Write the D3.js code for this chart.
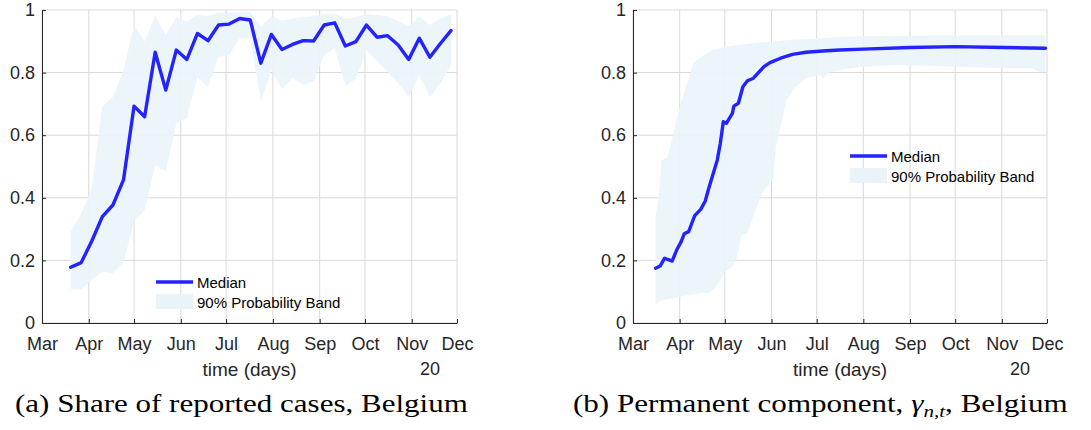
<!DOCTYPE html>
<html lang="en">
<head>
    <meta charset="UTF-8">
    <title>Belgium: share of reported cases and permanent component</title>
    <script src="https://d3js.org/d3.v7.min.js"></script>
    <style>
        body { margin: 0; background: #fff; }
        svg { display: block; }
    </style>
</head>
<body>
    <svg></svg>
    <script>
        // month ticks and y ticks
        const monthTicks = ['2020-03-01', '2020-04-01', '2020-05-01', '2020-06-01', '2020-07-01',
            '2020-08-01', '2020-09-01', '2020-10-01', '2020-11-01', '2020-12-01'];
        const yTicks = [0, 0.2, 0.4, 0.6, 0.8, 1];
        const yearLabel = '20';

        // (a) share of reported cases, weekly
        const shareDates = ['2020-03-20', '2020-03-27', '2020-04-03', '2020-04-10', '2020-04-17', '2020-04-24',
            '2020-05-01', '2020-05-08', '2020-05-15', '2020-05-22', '2020-05-29', '2020-06-05', '2020-06-12',
            '2020-06-19', '2020-06-26', '2020-07-03', '2020-07-10', '2020-07-17', '2020-07-24', '2020-07-31',
            '2020-08-07', '2020-08-14', '2020-08-21', '2020-08-28', '2020-09-04', '2020-09-11', '2020-09-18',
            '2020-09-25', '2020-10-02', '2020-10-09', '2020-10-16', '2020-10-23', '2020-10-30', '2020-11-06',
            '2020-11-13', '2020-11-20', '2020-11-27'];
        const shareMedian = [0.178, 0.193, 0.262, 0.340, 0.377, 0.457, 0.693, 0.659, 0.865, 0.744, 0.872, 0.842,
            0.925, 0.902, 0.952, 0.955, 0.973, 0.968, 0.830, 0.922, 0.874, 0.890, 0.902, 0.901, 0.952, 0.959,
            0.885, 0.899, 0.952, 0.913, 0.918, 0.888, 0.842, 0.910, 0.849, 0.893, 0.934];
        const shareLower = [0.108, 0.108, 0.137, 0.164, 0.159, 0.193, 0.324, 0.360, 0.505, 0.483, 0.638, 0.654,
            0.785, 0.753, 0.851, 0.856, 0.910, 0.910, 0.707, 0.808, 0.747, 0.782, 0.760, 0.771, 0.856, 0.878,
            0.757, 0.780, 0.872, 0.835, 0.803, 0.766, 0.721, 0.792, 0.721, 0.766, 0.824];
        const shareUpper = [0.292, 0.350, 0.430, 0.693, 0.723, 0.808, 0.952, 0.899, 0.981, 0.920, 0.977, 0.963,
            0.984, 0.980, 0.991, 0.991, 0.993, 0.993, 0.947, 0.980, 0.966, 0.973, 0.977, 0.980, 0.988, 0.988,
            0.973, 0.977, 0.988, 0.984, 0.980, 0.966, 0.947, 0.980, 0.952, 0.973, 0.987];

        // (b) permanent component
        const permDates = ['2020-03-16', '2020-03-19', '2020-03-22', '2020-03-24', '2020-03-27', '2020-03-30',
            '2020-04-02', '2020-04-04', '2020-04-07', '2020-04-09', '2020-04-11', '2020-04-15', '2020-04-18',
            '2020-04-20', '2020-04-22', '2020-04-26', '2020-04-28', '2020-04-30', '2020-05-02', '2020-05-06',
            '2020-05-07', '2020-05-10', '2020-05-13', '2020-05-16', '2020-05-20', '2020-05-23', '2020-05-27',
            '2020-05-31', '2020-06-07', '2020-06-15', '2020-06-24', '2020-07-05', '2020-07-16', '2020-08-01',
            '2020-09-01', '2020-10-01', '2020-11-02', '2020-11-30'];
        const permMedian = [0.175, 0.182, 0.207, 0.203, 0.198, 0.233, 0.260, 0.285, 0.292, 0.318, 0.343, 0.363,
            0.390, 0.425, 0.457, 0.521, 0.574, 0.643, 0.638, 0.670, 0.693, 0.702, 0.755, 0.774, 0.782, 0.798,
            0.819, 0.832, 0.846, 0.858, 0.865, 0.869, 0.872, 0.875, 0.880, 0.883, 0.880, 0.878];
        const permUpperDates = ['2020-03-16', '2020-03-18', '2020-03-20', '2020-03-24', '2020-03-29', '2020-04-01',
            '2020-04-06', '2020-04-10', '2020-04-17', '2020-04-23', '2020-05-02', '2020-05-22', '2020-06-13',
            '2020-07-16', '2020-08-01', '2020-11-30'];
        const permUpper = [0.340, 0.400, 0.520, 0.530, 0.630, 0.690, 0.766, 0.830, 0.856, 0.872, 0.883, 0.895,
            0.904, 0.913, 0.917, 0.920];
        const permLowerDates = ['2020-03-16', '2020-03-19', '2020-03-28', '2020-04-06', '2020-04-15', '2020-04-21',
            '2020-04-26', '2020-05-01', '2020-05-06', '2020-05-09', '2020-05-12', '2020-05-16', '2020-05-19',
            '2020-05-23', '2020-05-27', '2020-05-31', '2020-06-02', '2020-06-04', '2020-06-08', '2020-06-11',
            '2020-06-17', '2020-06-24', '2020-07-03', '2020-07-05', '2020-07-10', '2020-07-16', '2020-08-01',
            '2020-08-23', '2020-10-06', '2020-11-02', '2020-11-21', '2020-11-26', '2020-11-30'];
        const permLower = [0.058, 0.071, 0.079, 0.089, 0.095, 0.097, 0.121, 0.164, 0.180, 0.212, 0.281, 0.287,
            0.329, 0.382, 0.425, 0.446, 0.457, 0.563, 0.649, 0.712, 0.755, 0.782, 0.792, 0.782, 0.803, 0.808,
            0.819, 0.824, 0.819, 0.814, 0.814, 0.803, 0.803];

        const parse = d3.timeParse('%Y-%m-%d');
        const lineColor = '#2323ff';
        const bandColor = '#eaf4f8';
        const gridColor = '#d9d9d9';
        const textColor = '#262626';

        const svg = d3.select('svg')
            .attr('width', 1091)
            .attr('height', 430);

        function zip(dates, vals) {
            return dates.map((d, i) => ({ date: parse(d), value: vals[i] }));
        }

        function drawPanel(opts) {
            const x = d3.scaleTime()
                .domain([parse(monthTicks[0]), parse(monthTicks[monthTicks.length - 1])])
                .range([opts.left, opts.right]);
            const y = d3.scaleLinear().domain([0, 1]).range([323, 10]);
            const g = svg.append('g');

            // grid
            g.append('g').selectAll('line').data(monthTicks.map(parse)).join('line')
                .attr('x1', d => x(d)).attr('x2', d => x(d))
                .attr('y1', y(0)).attr('y2', y(1))
                .attr('stroke', gridColor).attr('stroke-width', 1);
            g.append('g').selectAll('line').data(yTicks).join('line')
                .attr('x1', opts.left).attr('x2', opts.right)
                .attr('y1', d => y(d)).attr('y2', d => y(d))
                .attr('stroke', gridColor).attr('stroke-width', 1);

            // band as a closed polygon: upper edge then lower edge reversed
            const pts = opts.upper.map(d => [x(d.date), y(d.value)])
                .concat(opts.lower.slice().reverse().map(d => [x(d.date), y(d.value)]));
            g.append('path')
                .attr('d', d3.line()(pts) + 'Z')
                .attr('fill', bandColor)
                .attr('fill-opacity', 0.92);

            g.append('path')
                .datum(opts.median)
                .attr('fill', 'none')
                .attr('stroke', lineColor)
                .attr('stroke-width', 3.4)
                .attr('stroke-linejoin', 'round')
                .attr('stroke-linecap', 'round')
                .attr('d', d3.line().x(d => x(d.date)).y(d => y(d.value)));

            // axes
            const xAxis = g.append('g')
                .attr('transform', `translate(0,${y(0)})`)
                .call(d3.axisBottom(x)
                    .tickValues(monthTicks.map(parse))
                    .tickFormat(d3.timeFormat('%b'))
                    .tickSizeInner(-4).tickSizeOuter(0).tickPadding(14));
            xAxis.select('.domain').attr('stroke', textColor);
            xAxis.selectAll('.tick line').attr('stroke', textColor);
            xAxis.selectAll('text').attr('fill', textColor)
                .style('font', '18px "Liberation Sans", Arial, sans-serif');

            const yAxis = g.append('g')
                .attr('transform', `translate(${opts.left},0)`)
                .call(d3.axisLeft(y)
                    .tickValues(yTicks)
                    .tickFormat(d3.format('~g'))
                    .tickSizeInner(-4).tickSizeOuter(0).tickPadding(7));
            yAxis.select('.domain').attr('stroke', textColor);
            yAxis.selectAll('.tick line').attr('stroke', textColor);
            yAxis.selectAll('text').attr('fill', textColor)
                .style('font', '18px "Liberation Sans", Arial, sans-serif');

            g.append('text')
                .attr('x', (opts.left + opts.right) / 2).attr('y', 376)
                .attr('text-anchor', 'middle').attr('fill', textColor)
                .style('font', '19px "Liberation Sans", Arial, sans-serif')
                .text('time (days)');
            g.append('text')
                .attr('x', opts.right - 27).attr('y', 375)
                .attr('text-anchor', 'middle').attr('fill', textColor)
                .style('font', '18px "Liberation Sans", Arial, sans-serif')
                .text(yearLabel);

            // legend
            const lg = g.append('g').attr('transform', `translate(${opts.legendX},${opts.legendY})`);
            lg.append('line').attr('x1', 0).attr('x2', 37).attr('y1', 0).attr('y2', 0)
                .attr('stroke', lineColor).attr('stroke-width', 3.4);
            lg.append('rect').attr('x', 0).attr('y', 12).attr('width', 37).attr('height', 15)
                .attr('fill', bandColor);
            lg.append('text').attr('x', 41).attr('y', 6).attr('fill', '#000')
                .style('font', '15px "Liberation Sans", Arial, sans-serif').text('Median');
            lg.append('text').attr('x', 41).attr('y', 26).attr('fill', '#000')
                .style('font', '15px "Liberation Sans", Arial, sans-serif').text('90% Probability Band');
        }

        drawPanel({
            left: 42, right: 457,
            median: zip(shareDates, shareMedian),
            upper: zip(shareDates, shareUpper),
            lower: zip(shareDates, shareLower),
            legendX: 156, legendY: 282
        });

        drawPanel({
            left: 633, right: 1047,
            median: zip(permDates, permMedian),
            upper: zip(permUpperDates, permUpper),
            lower: zip(permLowerDates, permLower),
            legendX: 850, legendY: 156
        });

        // captions
        const capFont = '"Liberation Serif", "Times New Roman", serif';
        const capA = svg.append('text')
            .attr('x', 15).attr('y', 412)
            .attr('fill', '#000')
            .style('font-family', capFont).style('font-size', '25px')
            .text('(a) Share of reported cases, Belgium');

        const capB = svg.append('text')
            .attr('x', 573).attr('y', 412)
            .attr('fill', '#000')
            .style('font-family', capFont).style('font-size', '25px');
        capB.append('tspan').text('(b) Permanent component, ');
        capB.append('tspan').style('font-style', 'italic').text('γ');
        capB.append('tspan').style('font-style', 'italic').style('font-size', '17px')
            .attr('dy', 5).text('n,t');
        capB.append('tspan').attr('dy', -5).text(', Belgium');

        // stretch captions to the width they take in the figure
        [[capA, 453], [capB, 495]].forEach(([t, w]) => {
            const cur = t.node().getComputedTextLength();
            t.attr('transform', `translate(${t.attr('x')},412) scale(${w / cur},1) translate(${-t.attr('x')},-412)`);
        });
    </script>
</body>
</html>
